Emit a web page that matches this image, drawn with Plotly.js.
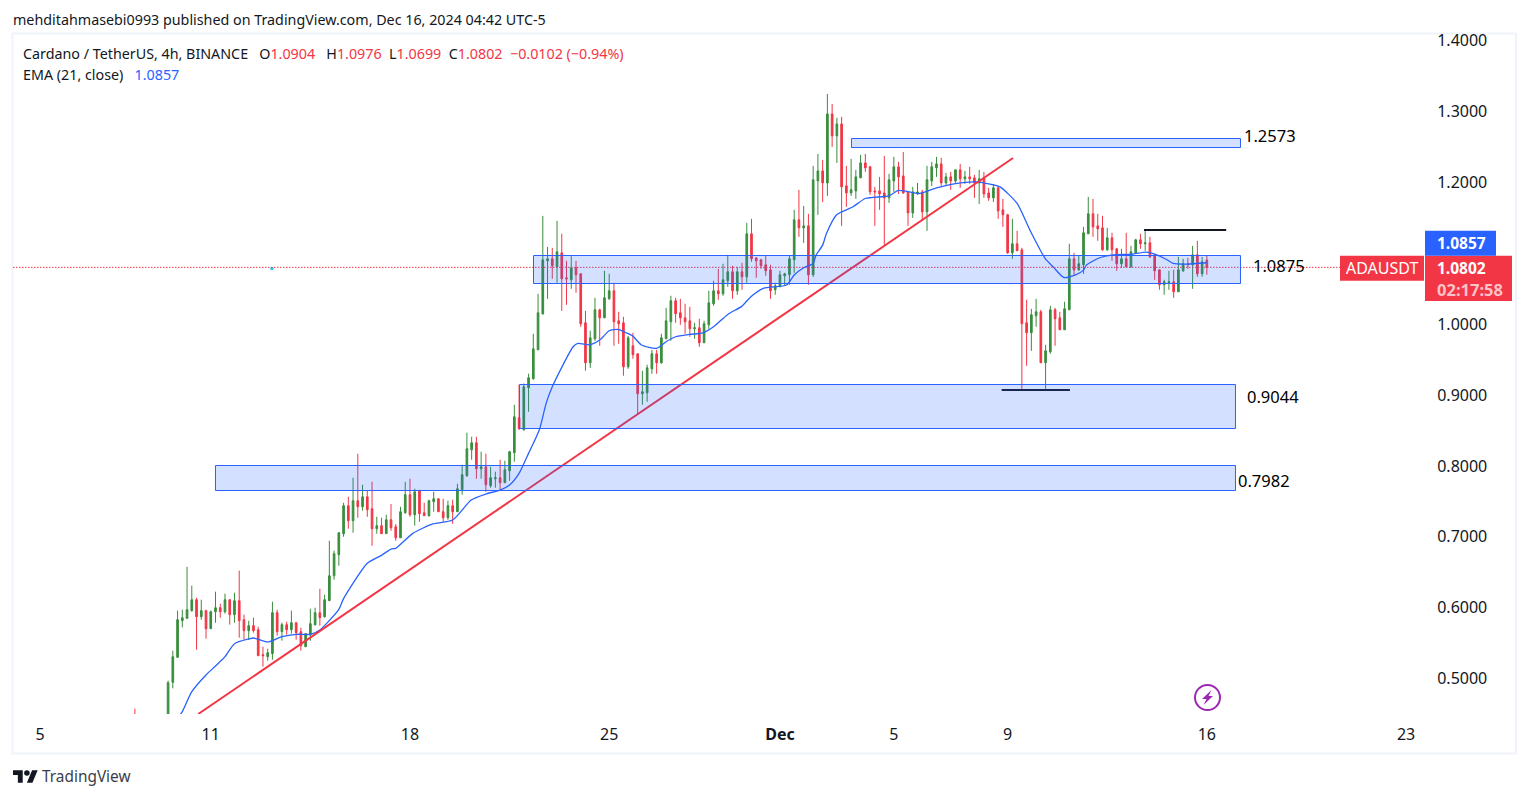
<!DOCTYPE html>
<html>
<head>
<meta charset="utf-8">
<script src="https://cdn.plot.ly/plotly-3.0.1.min.js"></script>
<style>
html,body{margin:0;padding:0;background:#fff;overflow:hidden}
#chart{position:absolute;left:0;top:0;width:1529px;height:798px}
.ov{position:absolute;pointer-events:none}
</style>
</head>
<body>
<div id="chart"></div>
<svg class="ov" style="left:13px;top:770px" width="25" height="13" viewBox="0 4 36 18"><path fill="#131722" d="M14 22H7V11H0V4h14v18zM28 22h-8l7.5-18h8L28 22z"/><circle fill="#131722" cx="20" cy="8" r="4"/></svg>
<svg class="ov" style="left:1193px;top:683px" width="29" height="29" viewBox="0 0 29 29"><circle cx="14.5" cy="14.5" r="12.5" fill="none" stroke="#9c27b0" stroke-width="2"/><path fill="#9c27b0" d="M18.5 7 L9 16 H13.5 L10.5 22 L20 13 H15.5 Z"/></svg>
<script>
const opens = [.44,
.44,.4949,.5301,.5818,.5851,.5959,.6114,.5874,.5959,.5705,
.5945,.6001,.5945,.6114,.5903,.6100,.5832,.5677,.5748,.5691,
.5339,.5310,.5353,.5931,.5663,.5762,.5691,.5790,.5663,.5451,
.5621,.5762,.5931,.5874,.6100,.6452,.6749,.7045,.7440,.7228,
.7510,.7425,.7566,.7397,.7115,.7158,.7045,.7242,.7143,.6988,
.7341,.7595,.7313,.7651,.7341,.7299,.7496,.7538,.7355,.7270,
.7440,.7355,.7665,.7862,.8229,.8328,.7961,.7989,.7722,.7820,
.7834,.7764,.7933,.8187,.8680,.8511,.9103,.9230,.9639,1.0147,
1.0894,1.0922,1.0809,1.1007,1.0654,1.0626,1.0795,1.0711,1.0020,.9456,
.9794,1.0203,1.0090,1.0358,1.0471,1.0048,1.0020,.9399,.9696,.9583,
.9019,.9033,.9371,.9583,.9456,.9794,1.0034,1.0330,1.0161,1.0090,
1.0048,.9935,.9949,.9738,.9992,1.0288,1.0471,1.0429,1.0612,1.0739,
1.0471,1.0739,1.0668,1.1275,1.0936,1.0908,1.0838,1.0767,1.0485,1.0527,
1.0683,1.0697,1.0908,1.1472,1.1359,1.1387,1.0696,1.2021,1.2162,1.1993,
1.2966,1.2656,1.2825,1.1951,1.1852,1.1880,1.2064,1.2275,1.2219,1.1880,
1.1880,1.1852,1.1782,1.2021,1.2219,1.2092,1.1866,1.1570,1.1838,1.1866,
1.1585,1.2021,1.2205,1.2261,1.1993,1.2078,1.2021,1.2177,1.2050,1.2078,
1.2064,1.1993,1.2064,1.1852,1.1782,1.1923,1.1613,1.1543,1.1007,1.1134,
1.1049,1.0020,.9879,1.0119,1.0175,.9456,.9611,1.0203,1.0090,.9921,
1.0203,1.0922,1.0767,1.0838,1.1275,1.1557,1.1387,1.1359,1.1049,1.1218,
1.1063,1.0852,1.0922,1.0809,1.1007,1.1190,1.1134,1.1148,1.0979,1.0767,
1.0556,1.0584,1.0598,1.0457,1.0753,1.0852,1.0838,1.0979,1.0711,1.0904];
const highs = [.4577,
.4972,.5395,.5959,.5973,.6579,.6312,.6142,.6114,.5973,.5959,
.6227,.6058,.6199,.6114,.6213,.6523,.5903,.5818,.5860,.5733,
.5451,.5423,.6086,.5973,.5790,.5804,.5959,.5790,.5719,.5635,
.5987,.6001,.6269,.6185,.6946,.6805,.7059,.7482,.7566,.7834,
.8173,.7736,.7651,.7778,.7284,.7270,.7312,.7463,.7181,.7425,
.7778,.7820,.7679,.7665,.7482,.7524,.7637,.7538,.7538,.7510,
.7524,.7750,.8018,.8469,.8412,.8412,.8201,.8173,.7989,.7919,
.8088,.8074,.8215,.8864,.9146,.9164,.9301,.9865,1.0429,1.1528,
1.1091,1.1077,1.1458,1.1275,1.0894,1.0960,1.0894,1.0711,1.0189,.9907,
1.0372,1.0217,1.0753,1.0711,1.0584,1.0175,1.0104,.9836,.9879,.9583,
.9343,.9428,.9639,.9639,.9865,1.0231,1.0401,1.0372,1.0358,1.0288,
1.0245,1.0020,1.0076,1.0048,1.0471,1.0612,1.0781,1.0852,1.0979,1.0824,
1.0809,1.0866,1.1430,1.1486,1.0936,1.0922,1.0965,1.0838,1.0584,1.0753,
1.0725,1.0965,1.1613,1.1895,1.1669,1.1556,1.2233,1.2402,1.2318,1.3248,
1.3107,1.2910,1.2924,1.2233,1.2332,1.2177,1.2388,1.2402,1.2233,1.1937,
1.2078,1.2374,1.2120,1.2360,1.2289,1.2430,1.1866,1.1937,1.1993,1.1895,
1.2233,1.2289,1.2360,1.2346,1.2134,1.2148,1.2177,1.2261,1.2162,1.2219,
1.2106,1.2177,1.2148,1.1923,1.1979,1.1937,1.1768,1.1557,1.1486,1.1317,
1.1077,1.0344,1.0217,1.0358,1.0203,.9710,1.0259,1.0231,1.0175,1.0316,
1.1134,1.1007,1.0964,1.1373,1.1796,1.1768,1.1557,1.1529,1.1359,1.1289,
1.1077,1.1063,1.1289,1.1105,1.1204,1.1275,1.1317,1.1232,1.0979,1.0767,
1.0626,1.0753,1.0767,1.0950,1.0922,1.0936,1.1105,1.1176,1.0950,1.0976];
const lows = [.43,
.43,.4864,.5301,.5724,.5851,.5945,.5409,.5832,.5564,.5705,
.5790,.5860,.5917,.5762,.5790,.5578,.5550,.5545,.5649,.5324,
.5169,.5254,.5268,.5607,.5536,.5621,.5635,.5550,.5395,.5451,
.5536,.5748,.5748,.5860,.6100,.6396,.6593,.7002,.7115,.7059,
.7270,.7369,.7284,.6875,.7045,.7045,.7045,.7087,.6946,.6988,
.7327,.7284,.7158,.7214,.7299,.7284,.7355,.7355,.7214,.7242,
.7186,.7355,.7595,.7848,.8088,.7820,.7820,.7637,.7693,.7693,
.7665,.7764,.7792,.8060,.8511,.8497,.8765,.9216,.9639,1.0133,
1.0358,1.0640,1.0584,1.0189,1.0274,1.0499,1.0443,.9963,.9343,.9385,
.9766,.9696,1.0090,1.0344,.9696,.9724,.9273,.9371,.9512,.8723,
.8864,.8906,.9301,.9301,.9442,.9794,.9766,1.0020,.9992,.9865,
.9822,.9794,.9681,.9738,.9935,1.0260,1.0344,1.0401,1.0527,1.0358,
1.0415,1.0485,1.0584,1.0880,1.0654,1.0781,1.0683,1.0358,1.0415,1.0527,
1.0542,1.0556,1.0725,1.1232,1.1147,1.0556,1.0668,1.1542,1.1725,1.1810,
1.2501,1.2275,1.1387,1.1655,1.1810,1.1768,1.2064,1.2148,1.1824,1.1387,
1.1613,1.1119,1.1711,1.1866,1.1838,1.1838,1.1387,1.1500,1.1824,1.1457,
1.1317,1.1951,1.2078,1.1951,1.1965,1.1895,1.1993,1.1923,1.1979,1.1979,
1.1782,1.1697,1.1782,1.1740,1.1725,1.1486,1.1373,1.0993,1.0922,1.1035,
.9089,.9413,.9625,.9963,.9456,.9089,.9583,.9696,.9921,.9921,
1.0203,1.0683,1.0753,1.0711,1.1275,1.1232,1.1176,1.1035,1.1035,1.0894,
1.0753,1.0795,1.0809,1.0795,1.0993,1.1063,1.1035,1.0936,1.0626,1.0485,
1.0415,1.0485,1.0372,1.0457,1.0739,1.0781,1.0499,1.0668,1.0668,1.0699];
const closes = [.43,
.4944,.5310,.5832,.5860,.5973,.6114,.5874,.5959,.5705,.5945,
.6001,.5945,.6114,.5903,.6100,.5818,.5677,.5748,.5677,.5324,
.5324,.5367,.5931,.5663,.5762,.5691,.5790,.5649,.5465,.5635,
.5776,.5931,.5860,.6114,.6452,.6763,.7059,.7440,.7228,.7510,
.7425,.7566,.7383,.7115,.7158,.7045,.7242,.7129,.6988,.7355,
.7595,.7313,.7637,.7327,.7299,.7510,.7538,.7355,.7270,.7440,
.7355,.7679,.7877,.8243,.8328,.7961,.7989,.7736,.7834,.7834,
.7764,.7947,.8201,.8694,.8525,.9117,.9244,.9653,1.0161,1.0908,
1.0922,1.0824,1.1021,1.0640,1.0640,1.0795,1.0697,1.0006,.9456,.9808,
1.0203,1.0090,1.0372,1.0471,1.0034,1.0006,.9399,.9808,.9569,.9019,
.9047,.9385,.9583,.9456,.9808,1.0048,1.0330,1.0147,1.0090,1.0034,
.9935,.9949,.9738,1.0006,1.0302,1.0471,1.0429,1.0626,1.0739,1.0471,
1.0739,1.0668,1.1275,1.0922,1.0894,1.0824,1.0753,1.0471,1.0542,1.0697,
1.0711,1.0922,1.1472,1.1359,1.1387,1.0696,1.2036,1.2162,1.1993,1.2966,
1.2656,1.2825,1.1937,1.1852,1.1895,1.2078,1.2275,1.2205,1.1866,1.1866,
1.1838,1.1782,1.2036,1.2219,1.2078,1.1852,1.1570,1.1866,1.1866,1.1585,
1.2036,1.2219,1.2261,1.1993,1.2078,1.2021,1.2177,1.2050,1.2078,1.2050,
1.1993,1.2050,1.1838,1.1782,1.1923,1.1598,1.1543,1.1007,1.1134,1.1035,
1.0006,.9879,1.0133,1.0175,.9456,.9625,1.0203,1.0076,.9921,1.0217,
1.0922,1.0767,1.0852,1.1289,1.1557,1.1373,1.1345,1.1049,1.1218,1.1049,
1.0852,1.0922,1.0809,1.1021,1.1190,1.1134,1.1148,1.0950,1.0753,1.0556,
1.0598,1.0598,1.0457,1.0767,1.0852,1.0838,1.0979,1.0711,1.0880,1.0802];

// EMA(21): candle position and value
const emaPos = [2,3,5,8,10,12,14,17,18,21,24,27,30,32,36,37,42,45,47,48,51.6,55.8,60,63.9,67,70,72,74,76,78.3,79.7,81,85.4,86.4,88.9,91,93,94.8,96.6,98,99.8,103,105,107,110,112.8,115,118,121,122.7,125.5,130.4,132,134,136,136.6,138,138.8,141,144.4,147,152,154,158.5,162,166,170.4,173,175.4,179,181.7,184.9,186.7,188.8,191.2,193,193.6,196.4,199.2,203.4,206.2,208,210.5,211.9,214.7,219];
const emaVal = [.4432,.4526,.4807,.5043,.5169,.5301,.5484,.5550,.5564,.5508,.5583,.5616,.5616,.5677,.5968,.6119,.6617,.6730,.6819,.6829,.7040,.7172,.7228,.7510,.7595,.7651,.7722,.7886,.8168,.8506,.8873,.9108,.9672,.9719,.9700,.9766,.9898,.9916,.9869,.9822,.9696,.9649,.9743,.9813,.9846,.9869,.9954,1.0128,1.0245,1.0368,1.0495,1.0542,1.0683,1.0786,1.0847,1.0964,1.1105,1.1270,1.1537,1.1646,1.1763,1.1801,1.1876,1.1834,1.1913,1.1974,1.1998,1.1970,1.1927,1.1693,1.1317,1.0918,1.0791,1.0650,1.0683,1.0753,1.0823,1.0927,1.0969,1.0979,1.1007,1.0979,1.0903,1.0847,1.0838,1.0857];

// zones, in days since Nov 5 and in price
const zoneStart = [28.513,17.340,16.848,6.166];
const zoneEnd   = [42.182,42.182,42.006,42.006];
const zoneLow   = [1.2492,1.0574,.8529,.7654];
const zoneHigh  = [1.2619,1.0969,.9149,.8007];
const zoneLabels = ['1.2573','1.0875','0.9044','0.7982'];

const trendDays = [5.56,34.19];
const trendVals = [.4502,1.2344];
const bottomDays = [33.79,36.19];
const bottomVals = [.9072,.9072];
const topDays = [38.79,41.68];
const topVals = [1.1329,1.1329];
const dotDay = [8.15];
const dotVal = [1.0786];

const priceTicks = [.5,.6,.7,.8,.9,1,1.2,1.3,1.4];
const dayTicks = [0,6,13,20,26,30,34,41,48];
const dayTickText = ['5','11','18','25','<b>Dec</b>','5','9','16','23'];
const lastPrice = 1.0802;

const FONT = '"Noto Sans", sans-serif';
const INK = '#131722', RED = '#F23645', GREEN = '#388E3C', BLUE = '#2962FF';
const DAY = 864e5, T0 = Date.UTC(2024,10,5);
const iso = ms => new Date(ms).toISOString().slice(0,19).replace('T',' ');
const day = d => iso(T0 + d*DAY);
const first = Date.UTC(2024,10,9,12), H4 = 4*36e5;
const times = opens.map((_,i)=> iso(i===0 ? first-7*H4 : first+(i-1)*H4));

const L=13,R=1424,Tp=35,B=714;
const px = x => (x-L)/(R-L), py = y => 1-(y-Tp)/(B-Tp);
const note = (text,x,y,size,color,anchor) => ({text,x:px(x),y:py(y),xref:'paper',yref:'paper',xanchor:anchor||'left',yanchor:'middle',showarrow:false,font:{family:FONT,size,color},borderpad:0,borderwidth:0});
const box = (x0,y0,x1,y1,fill,layer) => ({type:'rect',xref:'paper',yref:'paper',x0:px(x0),x1:px(x1),y0:py(y0),y1:py(y1),fillcolor:fill,line:{width:0},layer:layer||'above'});

const traces = [
 {type:'candlestick',x:times,open:opens,high:highs,low:lows,close:closes,
  increasing:{line:{color:GREEN,width:1},fillcolor:GREEN},
  decreasing:{line:{color:RED,width:1},fillcolor:RED},
  whiskerwidth:0,hoverinfo:'skip'},
 {type:'scatter',mode:'lines',x:emaPos.map(p=>iso(first+p*H4)),y:emaVal.map(v=>v+.001),line:{color:BLUE,width:1.3,shape:'spline',smoothing:.6},hoverinfo:'skip'},
 {type:'scatter',mode:'lines',x:trendDays.map(day),y:trendVals,line:{color:RED,width:2},hoverinfo:'skip'},
 {type:'scatter',mode:'lines',x:bottomDays.map(day),y:bottomVals,line:{color:INK,width:2},hoverinfo:'skip'},
 {type:'scatter',mode:'lines',x:topDays.map(day),y:topVals,line:{color:INK,width:2},hoverinfo:'skip'},
 {type:'scatter',mode:'markers',x:dotDay.map(day),y:dotVal,marker:{color:'#22C3E6',size:3,symbol:'square'},hoverinfo:'skip'}
];

const shapes = [
 {type:'rect',xref:'paper',yref:'paper',x0:px(12.5),x1:px(1516),y0:py(33.5),y1:py(753.5),line:{color:'#F0F3FA',width:2},layer:'below'},
 {type:'line',xref:'paper',yref:'y',x0:px(13),x1:px(1340),y0:lastPrice,y1:lastPrice,line:{color:RED,width:1,dash:'1.5px,1.5px'},layer:'above'},
 ...zoneStart.map((_,i)=>({type:'rect',xref:'x',yref:'y',x0:day(zoneStart[i]),x1:day(zoneEnd[i]),y0:zoneLow[i],y1:zoneHigh[i],fillcolor:'rgba(41,98,255,0.2)',line:{color:BLUE,width:1},layer:'above'})),
 box(1340,255.7,1424,280.7,RED),
 box(1425,255.7,1512,301,RED),
 box(1425,230.7,1496,255.7,BLUE)
];

const gap2 = '&nbsp;&nbsp;', gap3 = '&nbsp;&nbsp;&nbsp;';
const red = s => `<span style="color:${RED}">${s}</span>`;
const annotations = [
 note('mehditahmasebi0993 published on TradingView.com, Dec 16, 2024 04:42 UTC-5',13,19,14.3,INK),
 note(`Cardano / TetherUS, 4h, BINANCE${gap3}O${red('1.0904')}${gap3}H${red('1.0976')}${gap2}L${red('1.0699')}${gap2}C${red('1.0802')}${gap2}${red('−0.0102 (−0.94%)')}`,23,53,14.3,INK),
 note(`EMA (21, close)${gap3}<span style="color:${BLUE}">1.0857</span>`,23,74,14.3,INK),
 note(zoneLabels[0],1244,135,16.5,'#000'),
 note(zoneLabels[1],1253,265,16.5,'#000'),
 note(zoneLabels[2],1247,396,16.5,'#000'),
 note(zoneLabels[3],1238,480,16.5,'#000'),
 note('ADAUSDT',1382,268,16,'#fff','center'),
 note('<b>1.0857</b>',1437,243,15.5,'#fff'),
 note('<b>1.0802</b>',1437,268,15.5,'#fff'),
 note('<b>02:17:58</b>',1437,289,16.5,'#FBC2C8'),
 note('TradingView',42,777,15.4,'#3a3e4a')
];

Plotly.newPlot('chart',traces,{
 width:1529,height:798,autosize:false,showlegend:false,
 paper_bgcolor:'#fff',plot_bgcolor:'rgba(0,0,0,0)',
 margin:{l:L,r:1529-R,t:Tp,b:798-B,pad:0},
 font:{family:FONT,color:INK},
 boxgap:0.5,
 xaxis:{type:'date',range:[day(-0.949),day(48.63)],rangeslider:{visible:false},showgrid:false,zeroline:false,showline:false,
  tickmode:'array',tickvals:dayTicks.map(day),ticktext:dayTickText,ticks:'outside',ticklen:6,tickcolor:'rgba(0,0,0,0)',tickfont:{size:16,color:INK,family:FONT},fixedrange:true},
 yaxis:{side:'right',range:[.4502,1.4079],showgrid:false,zeroline:false,showline:false,
  tickmode:'array',tickvals:priceTicks,ticktext:priceTicks.map(v=>v.toFixed(4)),ticks:'outside',ticklen:9,tickcolor:'rgba(0,0,0,0)',tickfont:{size:16,color:INK,family:FONT},fixedrange:true},
 shapes,annotations
},{staticPlot:true,displayModeBar:false});
</script>
</body>
</html>
